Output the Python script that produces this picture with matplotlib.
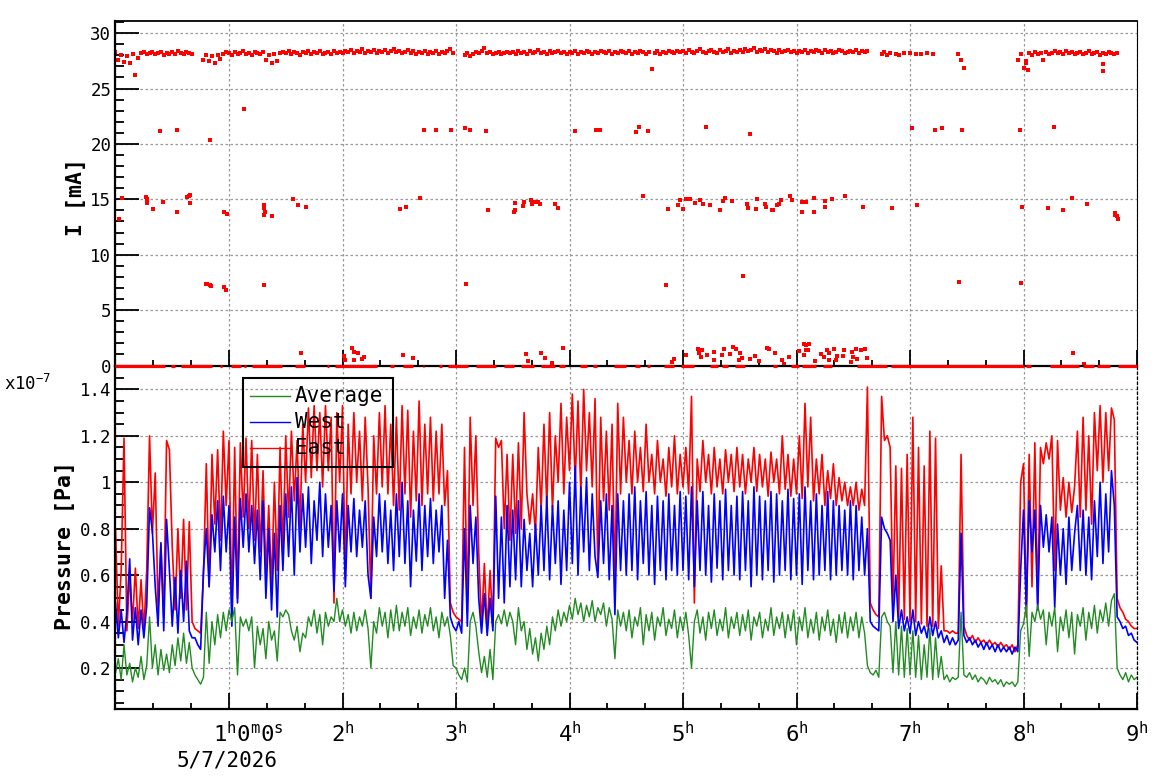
import numpy as np
import matplotlib
matplotlib.use('Agg')
import matplotlib.pyplot as plt
from matplotlib.lines import Line2D
from matplotlib.patches import Rectangle
from matplotlib.ticker import MultipleLocator, FuncFormatter

plt.rcParams['font.family'] = 'DejaVu Sans Mono'
plt.rcParams['mathtext.fontset'] = 'custom'
plt.rcParams['mathtext.rm'] = 'DejaVu Sans Mono'
plt.rcParams['mathtext.it'] = 'DejaVu Sans Mono'
plt.rcParams['mathtext.bf'] = 'DejaVu Sans Mono:bold'

# ---- data (pressure in units of 1e-7 Pa), one sample every 1.5 min ----
step_h = 0.025
east = [
    0.80, 0.38, 0.62, 1.19, 0.36, 0.60, 0.40, 0.63, 0.37, 0.58, 0.36, 0.62, 1.20, 0.78, 1.04, 0.45, 0.73, 0.42, 1.18, 1.14,
    0.72, 0.45, 0.80, 0.50, 0.84, 0.45, 0.83, 0.40, 0.37, 0.36, 0.35, 0.60, 1.08, 0.55, 1.12, 0.82, 1.14, 0.75, 1.22, 0.90,
    1.18, 0.45, 1.15, 0.50, 1.17, 0.85, 1.19, 0.80, 1.18, 0.75, 1.12, 0.70, 1.05, 0.60, 0.90, 0.55, 1.00, 0.62, 1.15, 0.70,
    1.20, 0.85, 1.22, 0.92, 1.18, 0.80, 1.25, 1.00, 1.32, 1.02, 1.33, 1.05, 1.30, 0.98, 1.33, 1.05, 1.28, 0.48, 1.30, 1.00,
    1.33, 0.58, 1.25, 0.95, 1.30, 1.00, 1.22, 0.92, 1.28, 0.98, 0.50, 1.20, 0.95, 1.30, 0.98, 1.33, 0.95, 1.25, 0.90, 1.28,
    0.88, 1.33, 0.95, 1.31, 0.85, 1.22, 0.92, 1.35, 0.90, 1.25, 0.95, 1.28, 0.92, 1.22, 0.95, 1.25, 0.90, 1.05, 0.48, 0.44,
    0.42, 0.41, 0.40, 1.15, 0.44, 1.28, 0.90, 1.20, 0.70, 0.38, 0.65, 0.36, 0.62, 0.38, 1.19, 1.15, 1.18, 0.80, 1.12, 0.75,
    1.12, 0.78, 1.17, 0.80, 1.30, 0.95, 0.82, 0.95, 0.78, 1.15, 0.88, 1.25, 0.90, 1.30, 0.88, 1.20, 1.00, 1.34, 0.95, 1.28,
    1.05, 1.38, 1.00, 1.35, 0.95, 1.40, 1.05, 1.30, 0.98, 1.36, 0.62, 1.28, 0.92, 1.22, 0.88, 1.25, 0.55, 1.34, 0.95, 1.28,
    1.00, 1.18, 0.95, 1.22, 1.00, 1.15, 0.96, 1.25, 1.00, 1.12, 0.95, 1.18, 1.00, 1.10, 0.94, 1.15, 0.98, 1.20, 0.95, 1.12,
    0.98, 1.15, 0.95, 1.37, 0.48, 1.10, 0.96, 1.18, 1.00, 1.12, 0.95, 1.15, 0.98, 1.10, 0.95, 1.14, 1.00, 1.12, 0.96, 1.15,
    0.98, 1.12, 0.95, 1.10, 1.00, 1.15, 0.96, 1.12, 0.98, 1.10, 0.94, 1.13, 1.00, 1.10, 0.95, 1.20, 0.97, 1.12, 0.94, 1.10,
    0.95, 1.20, 0.93, 1.34, 0.98, 1.28, 0.92, 1.10, 0.95, 1.12, 0.90, 1.05, 0.93, 1.08, 0.90, 1.02, 0.92, 1.00, 0.90, 0.98,
    0.90, 1.00, 0.88, 0.97, 0.90, 1.41, 0.48, 0.45, 0.43, 0.42, 1.37, 1.18, 1.20, 1.15, 0.48, 1.07, 0.42, 1.06, 0.41, 1.12,
    0.40, 1.28, 0.40, 1.15, 0.39, 1.07, 0.38, 1.22, 0.38, 1.19, 0.37, 0.64, 0.36, 0.36, 0.35, 0.36, 0.35, 0.35, 1.12, 0.38,
    0.34, 0.32, 0.34, 0.31, 0.33, 0.31, 0.32, 0.30, 0.32, 0.30, 0.31, 0.29, 0.31, 0.29, 0.30, 0.28, 0.30, 0.27, 0.30, 1.00,
    1.08, 0.42, 1.12, 0.55, 1.17, 0.48, 1.15, 1.08, 1.17, 1.10, 1.20, 0.62, 1.18, 0.88, 1.02, 0.85, 1.00, 0.87, 0.98, 1.22,
    0.85, 1.28, 0.88, 1.20, 0.82, 1.30, 1.05, 1.33, 1.00, 1.30, 1.05, 1.32, 1.27, 0.50, 0.46, 0.44, 0.41, 0.40, 0.38, 0.37,
    0.37,
]
west = [
    0.48, 0.33, 0.45, 0.31, 0.44, 0.67, 0.32, 0.46, 0.30, 0.45, 0.33, 0.47, 0.89, 0.79, 0.55, 0.38, 0.74, 0.36, 0.84, 0.62,
    0.38, 0.59, 0.35, 0.62, 0.40, 0.66, 0.36, 0.33, 0.33, 0.30, 0.28, 0.62, 0.80, 0.55, 0.86, 0.70, 0.92, 0.62, 0.94, 0.70,
    0.90, 0.38, 0.85, 0.48, 0.93, 0.72, 0.95, 0.70, 0.90, 0.65, 0.88, 0.58, 0.92, 0.50, 0.80, 0.45, 0.78, 0.42, 0.90, 0.62,
    0.95, 0.68, 0.98, 0.60, 1.02, 0.70, 0.95, 0.72, 0.98, 0.65, 0.92, 0.75, 1.00, 0.68, 0.95, 0.72, 0.90, 0.53, 0.92, 0.70,
    0.95, 0.55, 0.90, 0.70, 0.93, 0.68, 0.88, 0.72, 0.92, 0.60, 0.50, 0.85, 0.68, 0.95, 0.70, 0.92, 0.65, 0.88, 0.62, 0.95,
    0.68, 1.00, 0.65, 0.92, 0.55, 0.88, 0.66, 0.95, 0.62, 0.90, 0.68, 0.93, 0.65, 0.88, 0.70, 0.90, 0.50, 0.75, 0.42, 0.38,
    0.36, 0.40, 0.35, 0.80, 0.38, 0.90, 0.65, 0.85, 0.50, 0.35, 0.52, 0.34, 0.50, 0.36, 0.94, 0.50, 0.85, 0.48, 0.90, 0.55,
    0.88, 0.58, 0.92, 0.55, 0.84, 0.62, 0.78, 0.55, 0.82, 0.60, 0.90, 0.62, 0.94, 0.58, 0.90, 0.65, 0.92, 0.56, 0.88, 0.62,
    1.00, 0.65, 1.07, 0.60, 0.98, 0.70, 1.02, 0.62, 0.95, 0.68, 0.59, 0.92, 0.65, 0.95, 0.58, 0.90, 0.43, 0.95, 0.62, 0.92,
    0.60, 0.95, 0.62, 0.98, 0.58, 0.92, 0.65, 0.96, 0.60, 0.90, 0.56, 0.94, 0.62, 0.92, 0.58, 0.95, 0.62, 0.90, 0.60, 0.96,
    0.62, 0.94, 0.58, 0.98, 0.55, 0.92, 0.62, 0.96, 0.60, 0.90, 0.57, 0.95, 0.63, 0.92, 0.58, 0.97, 0.62, 0.90, 0.60, 0.94,
    0.58, 0.96, 0.62, 0.92, 0.55, 0.98, 0.60, 0.94, 0.58, 0.92, 0.62, 0.96, 0.57, 0.95, 0.60, 0.92, 0.62, 0.97, 0.58, 0.93,
    0.60, 0.95, 0.56, 0.98, 0.62, 0.92, 0.58, 0.95, 0.60, 0.90, 0.62, 0.96, 0.58, 0.92, 0.60, 0.90, 0.62, 0.88, 0.60, 0.92,
    0.58, 0.90, 0.62, 0.85, 0.60, 0.80, 0.40, 0.38, 0.37, 0.36, 0.85, 0.80, 0.78, 0.75, 0.40, 0.60, 0.37, 0.45, 0.36, 0.42,
    0.35, 0.45, 0.34, 0.40, 0.35, 0.38, 0.33, 0.42, 0.34, 0.40, 0.33, 0.36, 0.31, 0.34, 0.30, 0.33, 0.30, 0.32, 0.78, 0.34,
    0.31, 0.33, 0.30, 0.32, 0.29, 0.31, 0.28, 0.31, 0.28, 0.30, 0.27, 0.30, 0.27, 0.29, 0.27, 0.29, 0.26, 0.29, 0.27, 0.62,
    0.88, 0.45, 0.92, 0.70, 0.88, 0.45, 0.90, 0.72, 0.86, 0.70, 0.85, 0.46, 0.82, 0.60, 0.80, 0.56, 0.85, 0.62, 0.78, 0.90,
    0.62, 0.88, 0.60, 0.85, 0.58, 0.92, 0.68, 1.00, 0.65, 0.95, 0.70, 1.05, 0.90, 0.42, 0.40, 0.37, 0.38, 0.34, 0.35, 0.32,
    0.31,
]
average = [
    0.18, 0.24, 0.15, 0.30, 0.17, 0.22, 0.14, 0.20, 0.16, 0.25, 0.15, 0.21, 0.42, 0.20, 0.30, 0.17, 0.28, 0.19, 0.26, 0.18,
    0.30, 0.21, 0.33, 0.23, 0.35, 0.22, 0.31, 0.20, 0.17, 0.15, 0.13, 0.16, 0.44, 0.22, 0.40, 0.30, 0.43, 0.33, 0.44, 0.36,
    0.45, 0.40, 0.46, 0.17, 0.42, 0.38, 0.41, 0.36, 0.42, 0.20, 0.38, 0.30, 0.37, 0.24, 0.40, 0.32, 0.36, 0.23, 0.44, 0.42,
    0.45, 0.43, 0.36, 0.32, 0.38, 0.27, 0.35, 0.33, 0.42, 0.38, 0.45, 0.35, 0.43, 0.30, 0.44, 0.38, 0.42, 0.40, 0.50, 0.40,
    0.45, 0.38, 0.43, 0.35, 0.44, 0.36, 0.42, 0.38, 0.45, 0.37, 0.20, 0.40, 0.35, 0.46, 0.38, 0.44, 0.33, 0.45, 0.36, 0.47,
    0.36, 0.44, 0.38, 0.46, 0.34, 0.42, 0.37, 0.45, 0.35, 0.43, 0.38, 0.46, 0.36, 0.42, 0.33, 0.44, 0.38, 0.42, 0.34, 0.21,
    0.20, 0.17, 0.15, 0.20, 0.14, 0.40, 0.44, 0.38, 0.27, 0.18, 0.25, 0.16, 0.28, 0.15, 0.40, 0.43, 0.39, 0.45, 0.38, 0.44,
    0.40, 0.30, 0.46, 0.36, 0.40, 0.28, 0.37, 0.26, 0.33, 0.23, 0.35, 0.28, 0.38, 0.30, 0.42, 0.36, 0.45, 0.38, 0.44, 0.40,
    0.47, 0.41, 0.50, 0.43, 0.48, 0.40, 0.47, 0.42, 0.49, 0.40, 0.46, 0.43, 0.48, 0.38, 0.46, 0.41, 0.24, 0.45, 0.38, 0.44,
    0.36, 0.45, 0.33, 0.42, 0.38, 0.46, 0.30, 0.43, 0.36, 0.44, 0.32, 0.42, 0.38, 0.46, 0.34, 0.41, 0.37, 0.45, 0.33, 0.42,
    0.36, 0.44, 0.34, 0.20, 0.40, 0.45, 0.35, 0.42, 0.32, 0.44, 0.37, 0.45, 0.34, 0.41, 0.36, 0.46, 0.33, 0.42, 0.37, 0.44,
    0.34, 0.43, 0.36, 0.45, 0.32, 0.42, 0.38, 0.44, 0.33, 0.41, 0.36, 0.46, 0.34, 0.42, 0.37, 0.44, 0.33, 0.43, 0.36, 0.45,
    0.30, 0.42, 0.36, 0.46, 0.33, 0.41, 0.35, 0.44, 0.32, 0.42, 0.36, 0.45, 0.34, 0.41, 0.31, 0.43, 0.35, 0.44, 0.33, 0.42,
    0.36, 0.44, 0.33, 0.42, 0.35, 0.21, 0.18, 0.17, 0.19, 0.16, 0.42, 0.44, 0.40, 0.38, 0.18, 0.40, 0.17, 0.38, 0.16, 0.37,
    0.17, 0.36, 0.16, 0.34, 0.15, 0.30, 0.16, 0.37, 0.15, 0.33, 0.16, 0.25, 0.15, 0.17, 0.14, 0.16, 0.15, 0.16, 0.44, 0.17,
    0.16, 0.18, 0.15, 0.17, 0.14, 0.16, 0.15, 0.13, 0.16, 0.14, 0.15, 0.13, 0.15, 0.12, 0.14, 0.13, 0.14, 0.12, 0.14, 0.36,
    0.39, 0.47, 0.25, 0.44, 0.40, 0.47, 0.41, 0.45, 0.30, 0.44, 0.38, 0.46, 0.27, 0.42, 0.36, 0.45, 0.33, 0.44, 0.26, 0.43,
    0.38, 0.46, 0.32, 0.44, 0.37, 0.47, 0.35, 0.45, 0.40, 0.48, 0.38, 0.49, 0.52, 0.20, 0.17, 0.15, 0.18, 0.14, 0.17, 0.15,
    0.16,
]

# beam current [mA], main band on the same 1.5 min grid (nan = no reading)
nan = np.nan
current = [
    28.3, 27.6, 28.0, 27.4, 27.9, 27.3, 28.1, 26.2, 27.8, 28.2, 28.3, 28.1, 28.2, 28.3, 28.1, 28.2, 28.3, 28.0, 28.2, 28.1,
    28.3, 28.1, 28.4, 28.2, 28.1, 28.3, 28.2, 28.1, nan, nan, nan, 27.6, 28.0, 27.5, 27.9, 27.3, 28.0, 27.7, 28.1, 28.3,
    28.2, 28.0, 28.3, 28.1, 28.2, 28.4, 28.1, 28.2, 28.0, 28.3, 28.2, 28.1, 28.3, 27.6, 28.0, 27.3, 28.1, 27.5, 28.2, 28.3,
    28.2, 28.4, 28.1, 28.3, 28.2, 28.0, 28.3, 28.2, 28.4, 28.1, 28.3, 28.2, 28.4, 28.1, 28.2, 28.3, 28.1, 28.4, 28.2, 28.3,
    28.2, 28.4, 28.3, 28.5, 28.2, 28.4, 28.3, 28.6, 28.2, 28.4, 28.3, 28.5, 28.2, 28.4, 28.3, 28.5, 28.2, 28.4, 28.6, 28.3,
    28.4, 28.2, 28.3, 28.5, 28.2, 28.4, 28.1, 28.3, 28.2, 28.4, 28.1, 28.3, 28.2, 28.4, 28.1, 28.3, 28.2, 28.4, 28.6, 28.2,
    nan, nan, nan, 28.0, 28.2, 27.9, 28.1, 28.3, 28.2, 28.4, 28.7, 28.2, 28.3, 28.1, 28.2, 28.3, 28.1, 28.2, 28.3, 28.2,
    28.3, 28.1, 28.4, 28.2, 28.3, 28.1, 28.4, 28.2, 28.3, 28.5, 28.2, 28.3, 28.1, 28.4, 28.2, 28.3, 28.4, 28.2, 28.3, 28.1,
    28.3, 28.2, 28.4, 28.1, 28.3, 28.2, 28.4, 28.3, 28.1, 28.3, 28.2, 28.4, 28.3, 28.2, 28.4, 28.1, 28.3, 28.2, 28.4, 28.3,
    28.2, 28.4, 28.1, 28.3, 28.2, 28.4, 28.3, 28.1, 28.3, 26.8, 28.2, 28.4, 28.1, 28.3, 28.2, 28.4, 28.3, 28.2, 28.4, 28.3,
    28.4, 28.2, 28.5, 28.3, 28.2, 28.4, 28.6, 28.3, 28.2, 28.4, 28.5, 28.3, 28.2, 28.5, 28.3, 28.4, 28.6, 28.2, 28.4, 28.3,
    28.5, 28.3, 28.6, 28.4, 28.5, 28.7, 28.3, 28.5, 28.4, 28.6, 28.3, 28.5, 28.4, 28.2, 28.5, 28.3, 28.4, 28.5, 28.3, 28.4,
    28.2, 28.4, 28.3, 28.5, 28.2, 28.4, 28.3, 28.5, 28.4, 28.2, 28.5, 28.3, 28.4, 28.2, 28.3, 28.5, 28.4, 28.2, 28.3, 28.4,
    28.3, 28.5, 28.2, 28.4, 28.3, 28.4, nan, nan, nan, nan, 28.1, 28.3, 28.0, 28.2, nan, 28.15, 28.0, nan, 28.2, nan,
    28.2, nan, 28.1, nan, 28.1, nan, 28.25, nan, 28.1, nan, nan, nan, nan, nan, nan, nan, nan, 28.1, 27.6, 26.9,
    nan, nan, nan, nan, nan, nan, nan, nan, nan, nan, nan, nan, nan, nan, nan, nan, nan, nan, 27.6, 28.1,
    26.9, 27.5, 28.2, 28.0, 28.3, 28.1, 28.2, 27.6, 28.3, 28.1, 28.2, 28.4, 28.2, 28.3, 28.1, 28.4, 28.2, 28.3, 28.1, 28.2,
    28.3, 28.1, 28.2, 28.4, 28.1, 28.2, 28.3, 28.0, 28.2, 28.1, 28.3, 28.2, 28.1, 28.2, nan, nan, nan, nan, nan, nan,
    nan,
]

# isolated current readings (hour, mA)
stray_t = [0.03, 0.06, 0.27, 0.28, 0.28, 0.33, 0.39, 0.42, 0.54, 0.54, 0.63, 0.65, 0.66, 0.66, 0.80, 0.81, 0.83, 0.84,
           0.83, 0.96, 0.98, 0.96, 0.97, 1.13, 1.31, 1.31, 1.32, 1.31, 1.38, 1.31, 1.56, 1.61, 1.68, 1.63, 2.01, 2.02,
           2.08, 2.10, 2.10, 2.14, 2.17, 2.19, 2.51, 2.53, 2.56, 2.62, 2.68, 2.72, 2.82, 2.96, 3.08, 3.12, 3.09, 3.26,
           3.28, 3.51, 3.52, 3.52, 3.59, 3.60, 3.62, 3.63, 3.66, 3.67, 3.69, 3.72, 3.74, 3.75, 3.78, 3.85, 3.87, 3.90,
           3.94, 4.05, 4.23, 4.27, 4.59, 4.61, 4.69, 4.65, 4.85, 4.87, 4.90, 4.92, 4.96, 4.97, 5.00, 5.03, 5.06,
           5.03, 5.13, 5.14, 5.17, 5.16, 5.21, 5.27, 5.27, 5.34, 5.36, 5.41, 5.44, 5.47, 5.49, 5.50, 5.52, 5.59, 5.63,
           5.67, 5.74, 5.76, 5.81, 5.87, 5.93, 5.89,
           5.11, 5.15, 5.18, 5.24, 5.33, 5.35, 5.37, 5.43, 5.56, 5.57, 5.64, 5.65, 5.72, 5.73, 5.78, 5.79, 5.83, 5.85,
           5.86, 5.94, 5.96, 6.05, 6.08, 6.05, 6.15, 6.15, 6.25, 6.25, 6.31, 6.43, 6.59, 6.84, 7.06,
           5.20, 5.59, 7.02, 7.22, 7.28, 7.46, 7.97, 8.27, 5.53, 7.43, 7.98,
           6.02, 6.07, 6.08, 6.11, 6.08, 6.10, 6.07, 6.16, 6.22, 6.24, 6.27, 6.29, 6.29, 6.33, 6.36, 6.35, 6.41, 6.42,
           6.49, 6.50, 6.52, 6.57, 6.60, 6.62, 6.53, 6.48,
           8.44, 8.53, 7.99, 8.22, 8.35, 8.43, 8.56, 8.81, 8.82, 8.83, 8.81, 8.70, 8.70, 8.02, 8.04]
stray_i = [13.2, 15.1, 15.2, 14.7, 15.0, 14.1, 21.15, 14.8, 21.3, 13.9, 15.2, 15.3, 15.35, 14.65, 7.4, 7.35, 7.25, 7.2,
           20.4, 13.9, 13.65, 7.1, 6.8, 23.2, 14.45, 14.2, 13.85, 13.6, 13.5, 7.25, 15.0, 14.5, 14.3, 1.1, 0.85, 0.5,
           1.55, 1.2, 0.5, 1.1, 0.55, 0.75, 14.1, 0.95, 14.3, 0.65, 15.1, 21.3, 21.25, 21.3, 21.4, 21.25, 7.35, 21.15,
           14.0, 13.85, 14.05, 14.65, 14.4, 14.75, 1.0, 0.4, 14.9, 14.55, 14.75, 14.75, 14.55, 1.1, 0.65, 0.2, 14.55, 14.2,
           1.55, 21.15, 21.3, 21.3, 21.05, 21.5, 21.15, 15.3, 7.25, 14.1, 0.35, 0.55, 14.5, 14.9, 14.1, 15.0, 15.0,
           0.95, 1.5, 1.1, 1.4, 0.75, 0.95, 0.5, 1.2, 0.95, 1.5, 1.0, 1.65, 1.5, 0.5, 1.1, 0.65, 0.55, 0.85,
           0.4, 1.55, 1.5, 1.1, 0.5, 0.75, 0.1,
           14.65, 14.9, 14.55, 14.5, 14.0, 14.85, 15.1, 14.85, 14.55, 14.2, 14.1, 15.0, 14.55, 14.3, 14.0, 14.0, 14.5, 14.55,
           14.9, 15.3, 14.9, 14.75, 14.75, 13.9, 15.1, 13.85, 14.3, 14.85, 15.0, 15.3, 14.3, 14.2, 14.5,
           21.5, 20.9, 21.4, 21.25, 21.4, 21.3, 21.25, 21.5, 8.05, 7.5, 7.45,
           1.3, 1.9, 1.85, 1.9, 1.4, 1.4, 0.95, 0.4, 1.0, 0.75, 1.4, 1.1, 0.5, 1.5, 0.85, 0.5, 0.85, 1.4,
           1.2, 0.75, 1.5, 1.4, 1.5, 0.65, 0.6, 0.3,
           1.1, 0.1, 14.3, 14.2, 14.0, 15.1, 14.55, 13.75, 13.5, 13.2, 13.6, 27.2, 26.6, 27.3, 26.7]

# runs of zero-current readings (start hour, end hour)
zero_runs = [(0.0, 0.44), (0.49, 0.52), (0.58, 0.85), (0.92, 0.94), (1.02, 1.11), (1.13, 1.15), (1.20, 1.47),
             (1.58, 1.67), (1.86, 1.88), (1.93, 2.30), (2.42, 2.45), (2.53, 2.62), (2.71, 2.72), (2.85, 2.88),
             (2.93, 3.11), (3.18, 3.35), (3.42, 3.51), (3.57, 3.69), (3.75, 3.87), (3.91, 3.96), (4.09, 4.15),
             (4.21, 4.24), (4.39, 4.50), (4.58, 4.62), (4.68, 4.71), (4.83, 4.92), (4.98, 5.10), (5.24, 5.31),
             (5.34, 5.40), (5.46, 5.55), (5.79, 5.83), (5.95, 6.02), (6.05, 6.17), (6.23, 6.31), (6.53, 6.80),
             (6.83, 8.00), (8.02, 8.07), (8.23, 8.49), (8.52, 8.62), (8.65, 8.76), (8.83, 9.00)]

hours = np.arange(len(east)) * step_h

W, H = 1158, 782
fig = plt.figure(figsize=(W / 100, H / 100), dpi=100)


def fx(px):
    return px / W


def fy(py):
    return 1 - py / H


ax1 = fig.add_axes([fx(115.5), fy(365.5), fx(1137) - fx(115.5), fy(21) - fy(365.5)])
ax2 = fig.add_axes([fx(115.5), fy(709.3), fx(1137) - fx(115.5), fy(365.5) - fy(709.3)])
ax1.set_zorder(3)  # zero readings sit on the shared border, keep them on top

red = '#ff0000'
blue = '#0000ff'
green = '#228b22'
gridkw = dict(color='#999999', linestyle=(0, (2, 2)), linewidth=0.9)

# ---- top: beam current ----
ax1.plot(hours, current, 's', color=red, markersize=2.6, markeredgewidth=0)
ax1.plot(stray_t, stray_i, 's', color=red, markersize=2.6, markeredgewidth=0)
for a, b in zero_runs:
    ax1.hlines(0, a, b, color=red, linewidth=2.3, clip_on=False, zorder=2.7)
ax1.set_xlim(0, 9)
ax1.set_ylim(0, 31.1)
ax1.yaxis.set_major_locator(MultipleLocator(5))
ax1.yaxis.set_minor_locator(MultipleLocator(1))
ax1.set_xticks(range(10))
ax1.xaxis.set_minor_locator(MultipleLocator(1 / 3))
ax1.set_xticklabels([])
ax1.grid(True, which='major', **gridkw)

# ---- bottom: pressure ----
ax2.plot(hours, east, color=red, linewidth=1.2)
ax2.plot(hours, west, color=blue, linewidth=1.2)
ax2.plot(hours, average, color=green, linewidth=1.0)
ax2.set_xlim(0, 9)
ax2.set_ylim(0.022, 1.503)
ax2.yaxis.set_major_locator(MultipleLocator(0.2))
ax2.yaxis.set_minor_locator(MultipleLocator(0.05))
ax2.yaxis.set_major_formatter(FuncFormatter(lambda v, p: f'{v:g}'))
ax2.set_xticks(range(10))
ax2.xaxis.set_minor_locator(MultipleLocator(1 / 3))
ax2.set_xticklabels([])
ax2.grid(True, which='major', **gridkw)

for ax in (ax1, ax2):
    ax.tick_params(axis='both', which='both', direction='in', top=False, right=False,
                   labelsize=12.5, width=1.3, pad=3)
    ax.tick_params(axis='y', which='major', length=17)
    ax.tick_params(axis='y', which='minor', length=6.5)
    ax.tick_params(axis='x', which='major', length=11.5)
    ax.tick_params(axis='x', which='minor', length=4.5)
    ax.spines['left'].set_linewidth(1.6)
    ax.spines['bottom'].set_linewidth(1.6)
ax1.spines['top'].set_linewidth(1.3)
ax1.spines['right'].set_linewidth(0.8)
ax2.spines['top'].set_visible(False)
ax2.spines['right'].set_linewidth(0.9)
ax2.spines['right'].set_linestyle((0, (2, 2)))

# hour labels
lab_y = -(742 - 709.3) / 344
for h in range(2, 10):
    ax2.text(h, lab_y, rf'${h}^{{h}}$', transform=ax2.get_xaxis_transform(),
             ha='center', va='baseline', fontsize=16)
ax2.text(0.859, lab_y, r'$1^{h}0^{m}0^{s}$', transform=ax2.get_xaxis_transform(),
         ha='left', va='baseline', fontsize=16)
ax2.text(0.98, -(767 - 709.3) / 344, '5/7/2026', transform=ax2.get_xaxis_transform(),
         ha='center', va='baseline', fontsize=15)

# axis titles and exponent
fig.text(fx(76), fy(197), 'I [mA]', rotation=90, ha='center', va='center',
         fontsize=15.5, fontweight='bold')
fig.text(fx(65), fy(545), 'Pressure [Pa]', rotation=90, ha='center', va='center',
         fontsize=15.5, fontweight='bold')
fig.text(fx(4), fy(390), r'x10$^{-7}$', ha='left', va='baseline', fontsize=12.5)

# legend box
fig.add_artist(Rectangle((fx(243), fy(467)), fx(393) - fx(243), fy(378) - fy(467),
                         transform=fig.transFigure, fill=False, edgecolor='black', linewidth=1.5))
for name, col, ly in [('Average', green, 396), ('West', blue, 421.7), ('East', red, 448)]:
    fig.add_artist(Line2D([fx(250), fx(290)], [fy(ly), fy(ly)], transform=fig.transFigure,
                          color=col, linewidth=1.0))
    fig.text(fx(295), fy(ly + 6), name, ha='left', va='baseline', fontsize=15)

fig.savefig('out.png', dpi=100)
